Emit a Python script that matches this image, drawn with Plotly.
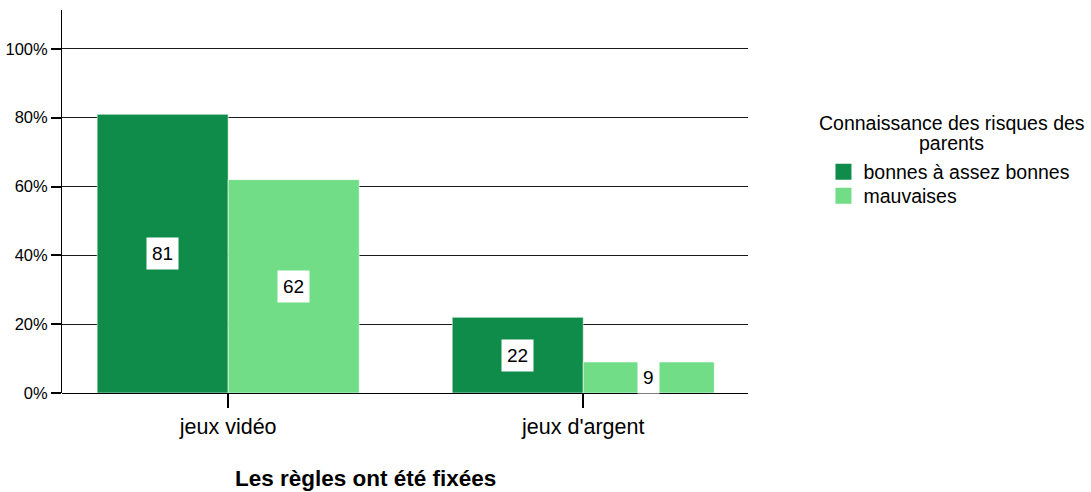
import plotly.graph_objects as go

# Share of children for whom rules were set, by parents' risk knowledge
categories = ["jeux vidéo", "jeux d'argent"]
series_names = ["bonnes à assez bonnes", "mauvaises"]
good_values = [81, 22]
bad_values = [62, 9]
y_ticks = [0, 20, 40, 60, 80, 100]
y_tick_labels = ["0%", "20%", "40%", "60%", "80%", "100%"]

colors = ["#108c4a", "#71dd87"]
font_family = "Liberation Sans, Arial, sans-serif"
bargap = 0.262

series_values = [good_values, bad_values]
legend_ids = ["legend", "legend2"]
fig = go.Figure()

for name, vals, col, lg in zip(series_names, series_values, colors, legend_ids):
    fig.add_trace(go.Bar(
        x=categories, y=vals, name=name, showlegend=False,
        marker=dict(color=col, line=dict(color="rgba(255,255,255,0.55)", width=1)),
        hoverinfo="skip",
    ))
    # legend-only entry with a larger square swatch
    fig.add_trace(go.Scatter(
        x=[None], y=[None], mode="markers", name=name, legend=lg,
        marker=dict(symbol="square", size=16, color=col),
    ))

# value labels in white boxes at mid-height of each bar
bar_w = (1 - bargap) / len(series_values)
annotations = []
for s, vals in enumerate(series_values):
    offset = (s - (len(series_values) - 1) / 2) * bar_w
    for i, v in enumerate(vals):
        annotations.append(dict(
            x=i + offset, y=v / 2, xref="x", yref="y", text=str(v),
            showarrow=False, bgcolor="white", borderpad=5,
            font=dict(family=font_family, size=19, color="black"),
        ))

# axis title
annotations.append(dict(
    x=0.443, y=-0.222, xref="paper", yref="paper",
    xanchor="center", yanchor="middle",
    text="<b>Les règles ont été fixées</b>", showarrow=False,
    font=dict(family=font_family, size=22.5, color="black"),
))
# legend title, two centred lines
for txt, yy in [("Connaissance des risques des", 0.705), ("parents", 0.652)]:
    annotations.append(dict(
        x=1.297, y=yy, xref="paper", yref="paper", text=txt,
        showarrow=False, xanchor="center", yanchor="middle",
        font=dict(family=font_family, size=19.5, color="black"),
    ))

legend_style = dict(
    xanchor="left", yanchor="middle",
    font=dict(family=font_family, size=19.5, color="black"),
    itemsizing="trace", bgcolor="rgba(0,0,0,0)",
)

fig.update_layout(
    width=1091, height=492,
    margin=dict(l=62, r=343, t=10, b=99),
    paper_bgcolor="white", plot_bgcolor="white",
    barmode="group", bargap=bargap, bargroupgap=0,
    font=dict(family=font_family, color="black"),
    showlegend=True,
    legend=dict(x=1.11, y=0.577, **legend_style),
    legend2=dict(x=1.11, y=0.514, **legend_style),
    annotations=annotations,
)

fig.update_xaxes(
    type="category", range=[-0.468, 1.464], automargin=False,
    showline=False, showgrid=False, zeroline=False,
    ticks="outside", ticklen=14, tickwidth=2, tickcolor="black",
    tickfont=dict(family=font_family, size=21.5, color="black"),
)
fig.update_yaxes(
    range=[0, 111.3], tickvals=y_ticks, ticktext=y_tick_labels, automargin=False,
    showline=True, linecolor="black", linewidth=1,
    showgrid=True, gridcolor="#1a1a1a", gridwidth=1,
    zeroline=True, zerolinecolor="black", zerolinewidth=1,
    ticks="outside", ticklen=10, tickwidth=2, tickcolor="black",
    tickfont=dict(family=font_family, size=16.5, color="black"),
)

fig.write_html("out.html")
